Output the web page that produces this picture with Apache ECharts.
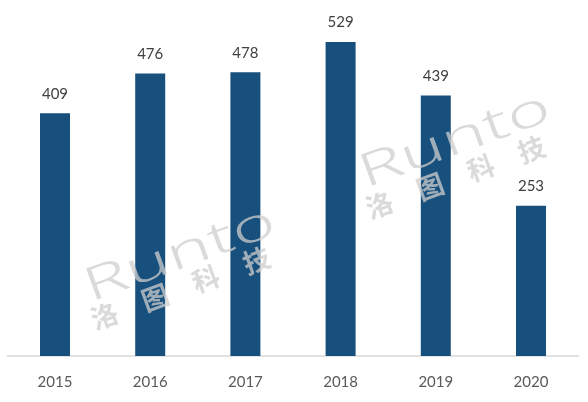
<!DOCTYPE html>
<html><head><meta charset="utf-8">
<script src="https://cdn.jsdelivr.net/npm/echarts@6/dist/echarts.min.js"></script>
<style>html,body{margin:0;padding:0;background:#fff}#c{width:588px;height:402px}</style>
</head><body><div id="c"></div>
<script>
const years = ['2015','2016','2017','2018','2019','2020'];
const values = [409, 476, 478, 529, 439, 253];

const chart = echarts.init(document.getElementById('c'));
const wmColor = 'rgba(205,205,205,0.75)';
function wm(x, y, cx, cy) {
  return [
    {type:'text', x:x, y:y, rotation:0.35, scaleX:1.6, z:100, style:{text:'Runto', font:'300 46px "Noto Sans"', fill:wmColor, textVerticalAlign:'alphabetic'}},
    {type:'text', x:cx, y:cy, rotation:0.35, z:100, style:{text:'洛　图　科　技', font:'bold 27px "Noto Sans CJK SC"', fill:wmColor, textVerticalAlign:'alphabetic'}}
  ];
}
chart.setOption({
  animation:false,
  grid:{left:7.4, right:9.4, top:23.6, bottom:46},
  xAxis:{type:'category', data:years,
    axisLine:{lineStyle:{color:'#d9d9d9', width:1.5}},
    axisTick:{show:false},
    axisLabel:{color:'#595959', fontSize:15, margin:19, fontFamily:'Lato'}},
  yAxis:{type:'value', min:0, max:560, show:false, splitLine:{show:false}},
  graphic: wm(78, 268, 87, 308).concat(wm(353, 154, 362, 197)),
  series:[{type:'bar', data:values, barWidth:30,
    itemStyle:{color:'#18507d'},
    label:{show:true, position:'top', distance:12, color:'#404040', fontSize:15, fontFamily:'Lato'}}]
});
</script></body></html>
